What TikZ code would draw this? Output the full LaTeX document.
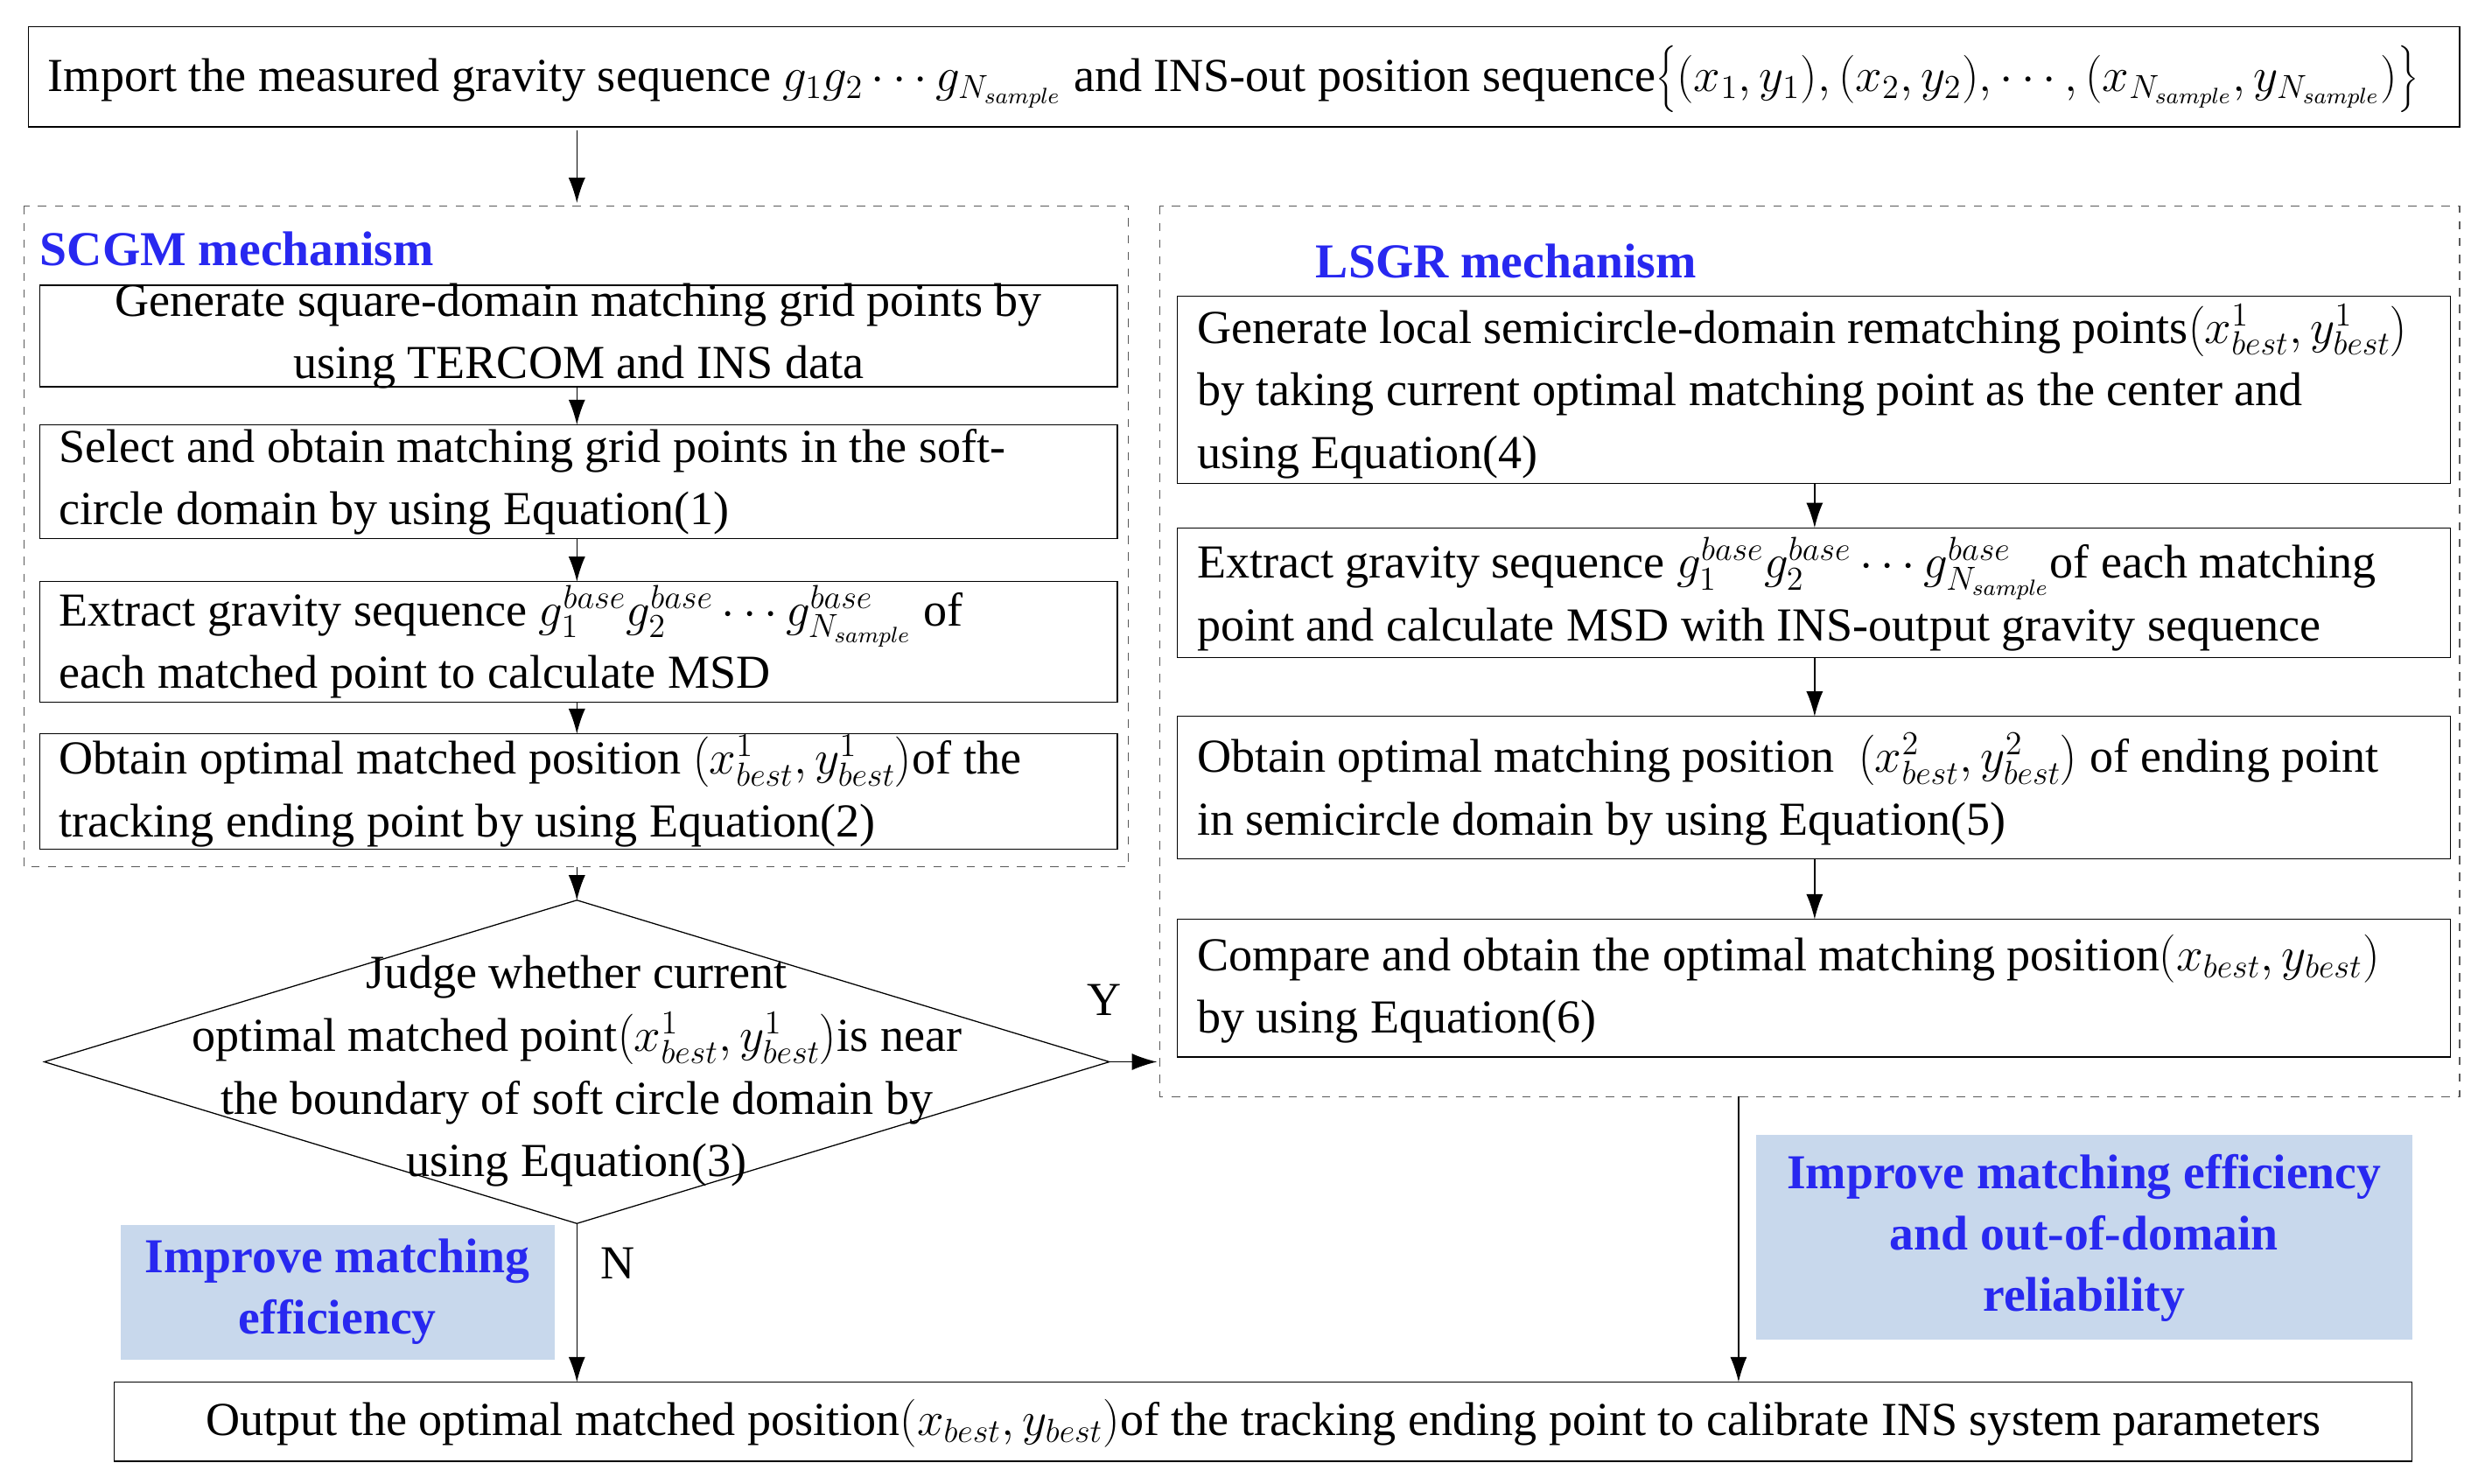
\documentclass[tikz,border=0pt]{standalone}
\usepackage{fontspec}
\setmainfont{Liberation Serif}
\usetikzlibrary{arrows.meta}
\definecolor{lb}{RGB}{200,216,236}
\definecolor{tb}{RGB}{40,40,240}
\begin{document}
\begin{tikzpicture}[x=0.02cm,y=-0.02cm,font=\fontsize{17}{22.5}\selectfont,
 tx/.style={inner sep=0pt,align=left},
 ar/.style={-{Latex[length=9pt,width=6pt]},thin},
 ttl/.style={text=tb,font=\fontsize{17.5}{22}\selectfont\bfseries,inner sep=0pt,anchor=west}]
\useasboundingbox (0,0) rectangle (1568,936);
% top
\draw (18,17) rectangle (1552,80);
\node[tx,anchor=west] (top) at (30,50) {Import the measured gravity sequence $g_1g_2\cdots g_{N_{sample}}$ and INS-out position sequence$\left\{(x_1,y_1),(x_2,y_2),\cdots,(x_{N_{sample}},y_{N_{sample}})\right\}$};
\coordinate (t1) at (364,82); \coordinate (t2) at (364,128);
\draw[ar] (t1) -- (t2);
% SCGM
\draw[dashed,gray!70!black] (15,130) rectangle (712,547);
\node[ttl] (s) at (25,157) {SCGM mechanism};
\draw (25,180) rectangle (705,244);
\node[tx,align=center] (t1n) at (365,212) {Generate square-domain matching grid points by\\using TERCOM and INS data};
\draw (25,268) rectangle (705,340);
\node[tx,anchor=west] (t2n) at (37,304) {Select and obtain matching grid points in the soft-\\circle domain by using Equation(1)};
\draw (25,367) rectangle (705,443);
\node[tx,anchor=west] (t3n) at (37,405) {Extract gravity sequence $g_1^{base}g_2^{base}\cdots g_{N_{sample}}^{base}$ of\\each matched point to calculate MSD};
\draw (25,463) rectangle (705,536);
\node[tx,anchor=west] (t4n) at (37,499) {Obtain optimal matched position $\left(x_{best}^1,y_{best}^1\right)$of the\\tracking ending point by using Equation(2)};
\foreach \a/\b in {244/268,340/367,443/463}{\coordinate (p\a) at (364,\a);\coordinate (q\b) at (364,\b);\draw[ar] (p\a) -- (q\b);}
\coordinate (s1) at (364,547); \coordinate (d1) at (364,568);
\draw[ar] (s1) -- (d1);
% diamond
\draw (364,568) -- (700,670) -- (364,772) -- (28,670) -- cycle;
\node[tx,align=center] (dt) at (364,676) {Judge whether current\\optimal matched point$\left(x_{best}^1,y_{best}^1\right)$is near\\the boundary of soft circle domain by\\using Equation(3)};
\coordinate (dr) at (700,670); \coordinate (lr) at (730,670);
\draw[ar] (dr) -- (lr);
\node[inner sep=0pt] (Y) at (697,631) {Y};
% LSGR
\draw[dashed,gray!70!black] (732,130) rectangle (1552,692);
\node[ttl] (l) at (830,165) {LSGR mechanism};
\draw (743,187) rectangle (1546,305);
\node[tx,anchor=west] (t5n) at (755,247) {Generate local semicircle-domain rematching points$\left(x_{best}^1,y_{best}^1\right)$\\by taking current optimal matching point as the center and\\using Equation(4)};
\draw (743,333) rectangle (1546,415);
\node[tx,anchor=west] (t6n) at (755,375) {Extract gravity sequence $g_1^{base}g_2^{base}\cdots g_{N_{sample}}^{base}$of each matching\\point and calculate MSD with INS-output gravity sequence};
\draw (743,452) rectangle (1546,542);
\node[tx,anchor=west] (t7n) at (755,498) {Obtain optimal matching position \ $\left(x_{best}^2,y_{best}^2\right)$\ of ending point\\in semicircle domain by using Equation(5)};
\draw (743,580) rectangle (1546,667);
\node[tx,anchor=west] (t8n) at (755,624) {Compare and obtain the optimal matching position$\left(x_{best},y_{best}\right)$\\by using Equation(6)};
\foreach \a/\b in {305/333,415/452,542/580}{\coordinate (r\a) at (1145,\a);\coordinate (u\b) at (1145,\b);\draw[ar] (r\a) -- (u\b);}
% blue boxes
\fill[lb] (76,773) rectangle (350,858);
\node[ttl,anchor=center,align=center] (i1) at (213,815) {Improve matching\\efficiency};
\fill[lb] (1108,716) rectangle (1522,845);
\node[ttl,anchor=center,align=center] (i2) at (1315,781) {Improve matching efficiency\\and out-of-domain\\reliability};
% output
\draw (72,872) rectangle (1522,922);
\node[tx,anchor=center] (out) at (797,898) {Output the optimal matched position$\left(x_{best},y_{best}\right)$of the tracking ending point to calibrate INS system parameters};
\coordinate (db) at (364,772); \coordinate (o1) at (364,872);
\draw[ar] (db) -- (o1);
\node[inner sep=0pt] (N) at (390,797) {N};
\coordinate (lb1) at (1097,692); \coordinate (o2) at (1097,872);
\draw[ar] (lb1) -- (o2);
\end{tikzpicture}
\end{document}
